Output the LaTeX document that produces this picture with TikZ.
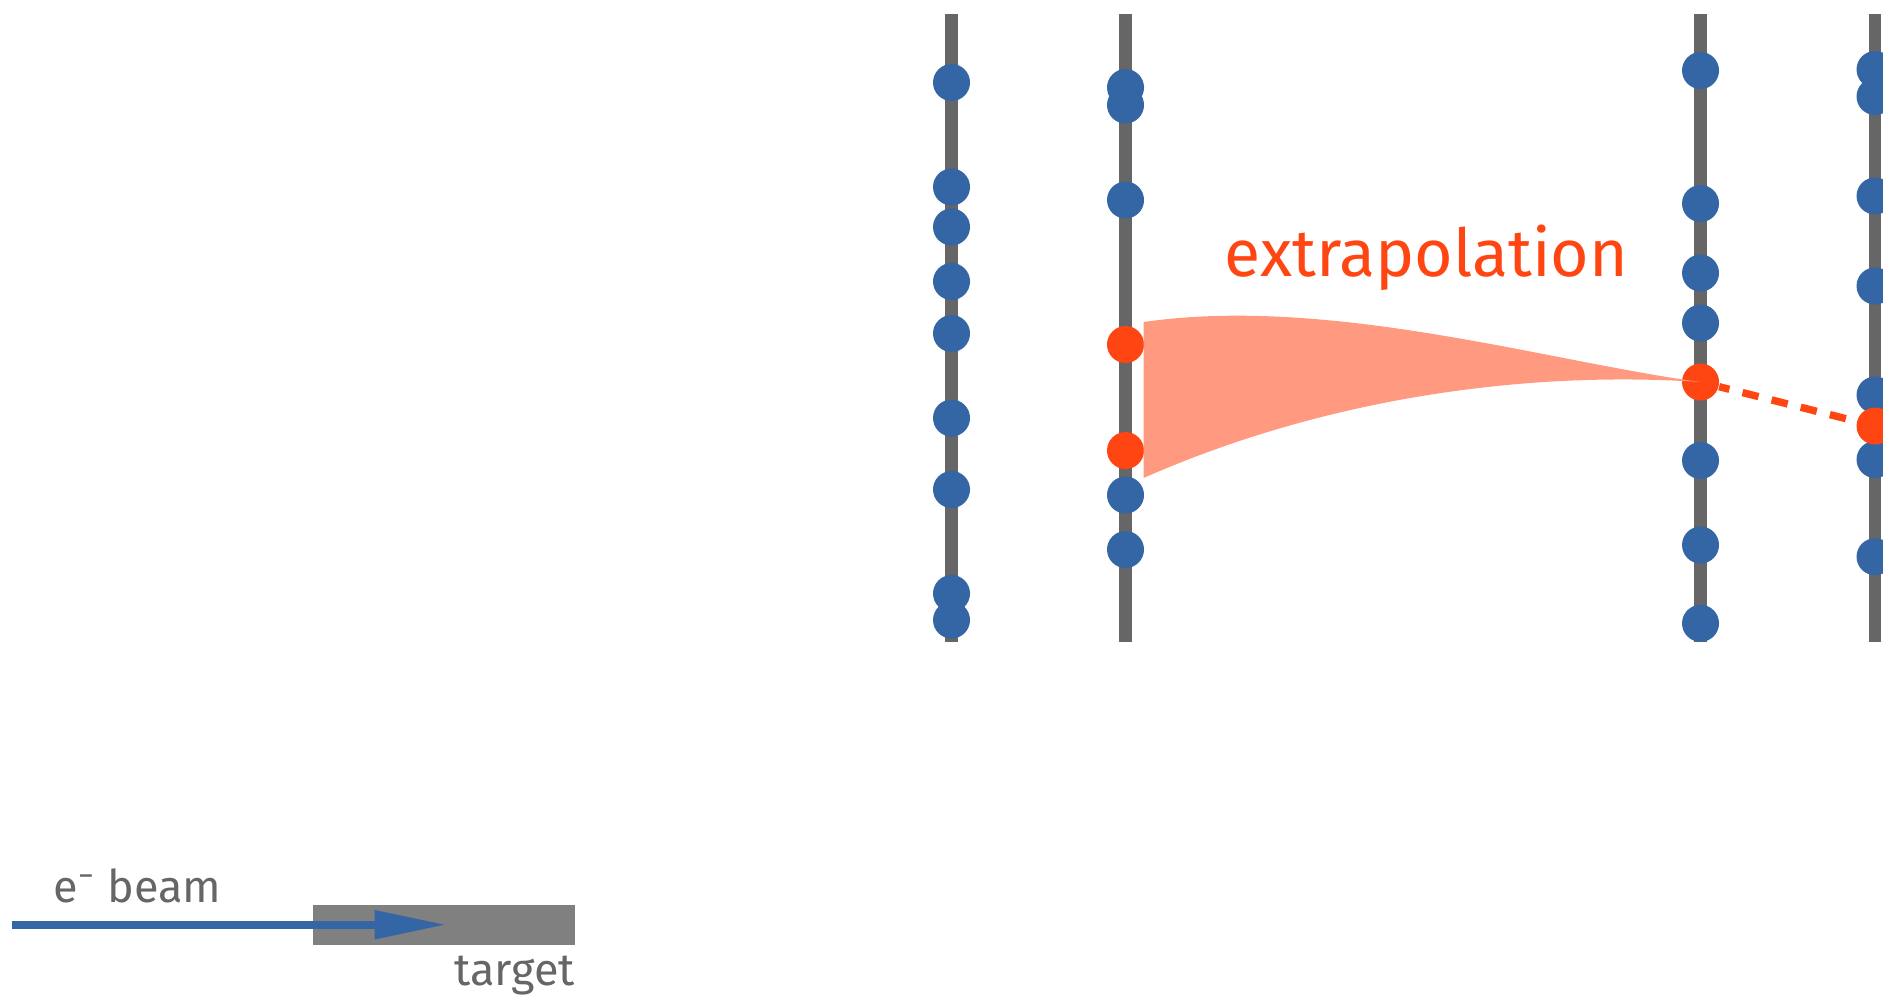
\documentclass[tikz,border=0pt]{standalone}
\usepackage{fontspec}
\setmainfont{Fira Sans}
\usetikzlibrary{arrows.meta, positioning}
\definecolor{hitblue}{HTML}{3465A4}
\definecolor{trkred}{HTML}{FF4511}
\definecolor{bandred}{HTML}{FF9A80}
\definecolor{layergray}{HTML}{666666}
\definecolor{tgtgray}{HTML}{808080}

\tikzset{
  layer/.style={layergray, line width=3.5pt},
  hit/.style={circle, fill=hitblue, inner sep=0pt, minimum size=3.7mm},
  trkhit/.style={hit, fill=trkred},
  lbl/.style={text=layergray, font=\fontsize{12.8}{14}\selectfont, inner sep=0pt}
}

\begin{document}
\begin{tikzpicture}[x=0.01cm, y=-0.01cm]
\useasboundingbox (0,0) rectangle (1883,996);
\clip (0,0) rectangle (1883,996);

% tracker layers
\foreach \lx in {951.5, 1125.5, 1700.5, 1875} {
  \draw[layer] (\lx,14) -- (\lx,642);
}

% hits on each layer
\foreach \y [count=\i] in {82.5, 187, 227, 281.5, 333.5, 418, 489.5, 593.5, 620}
  \node[hit] (a\i) at (951.5,\y) {};
\foreach \y [count=\i] in {87.5, 105, 200, 495, 549.5}
  \node[hit] (b\i) at (1125.5,\y) {};
\foreach \y [count=\i] in {70.5, 203.5, 273, 323, 460.5, 545, 623.3}
  \node[hit] (c\i) at (1700.5,\y) {};
\foreach \y [count=\i] in {69.5, 96.5, 196, 286, 395, 459.5, 556.7}
  \node[hit] (d\i) at (1875,\y) {};

% hits on the track
\node[trkhit] (r1) at (1125.5,344.5) {};
\node[trkhit] (r2) at (1125.5,450.5) {};
\node[trkhit] (r3) at (1700.5,382) {};
\node[trkhit] (r4) at (1875,426) {};

% extrapolation band
\fill[bandred] (1143.5,322) .. controls (1330,295) and (1550,362) .. (r3.center)
  .. controls (1520,370) and (1320,400) .. (1143.5,478) -- cycle;
\node[text=trkred, font=\fontsize{18.8}{20}\selectfont, anchor=base west, inner sep=0pt] (extrap) at (1224,276.7) {extrapolation};

% continuation to the last layer
\draw[trkred, line width=2.1pt, dash pattern=on 4.7pt off 3.84pt, dash phase=1.7pt] (r3) -- (r4);

% beam and target
\node[fill=tgtgray, minimum width=2.62cm, minimum height=0.4cm, inner sep=0pt] (target) at (444,924.7) {};
\coordinate (beamstart) at (12,924.7);
\coordinate (beamtip) at (446.7,924.7);
\draw[hitblue, line width=2.3pt, -{Triangle[length=7.2mm, width=2.7mm]}] (beamstart) -- (beamtip);
\node[lbl, anchor=base west] (beamlbl) at (53,902) {e\textsuperscript{−} beam};
\node[lbl, anchor=base west] (tgtlbl) at (453.5,985) {target};
\end{tikzpicture}
\end{document}
